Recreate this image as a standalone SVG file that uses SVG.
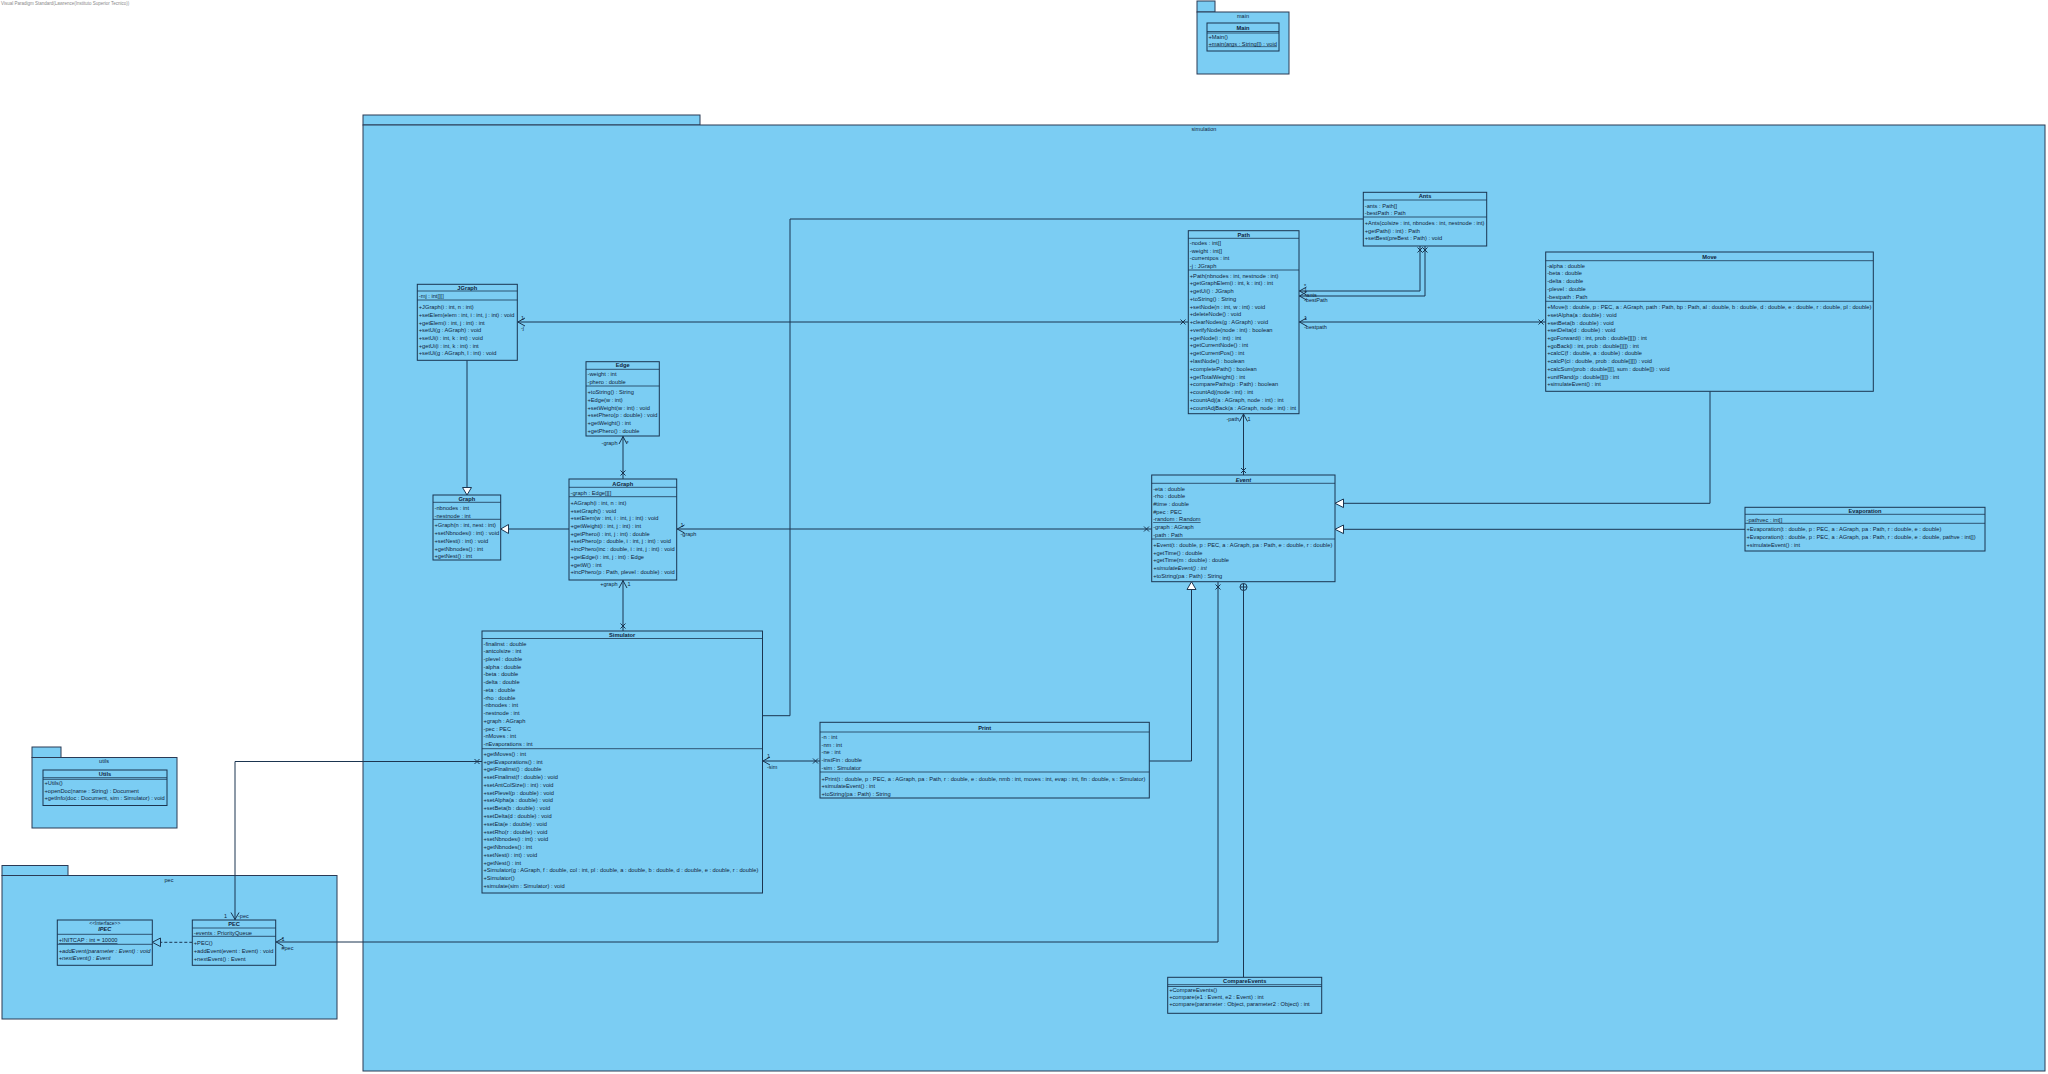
<svg xmlns="http://www.w3.org/2000/svg" width="2048" height="1074" viewBox="0 0 2048 1074">
<style>
  .t{font-family:"Liberation Sans",Arial,sans-serif;font-size:5.7px;fill:#10233a}
  .h{font-weight:bold;text-anchor:middle}
  .c{text-anchor:middle}
  .lb{font-family:"Liberation Sans",Arial,sans-serif;font-size:5.5px;fill:#10233a}
  .box{fill:#7bcdf3;stroke:#1b3550;stroke-width:1}
  .pkg{fill:#7bcdf3;stroke:#2a3a55;stroke-width:1}
  .sep{stroke:#1b3550;stroke-width:0.8}
  .ln{stroke:#1b3550;stroke-width:1;fill:none}
  .tri{fill:#ffffff;stroke:#1b3550;stroke-width:1}
  .it{font-style:italic}
  .u{text-decoration:underline}
</style>
<rect width="2048" height="1074" fill="#ffffff"/>
<text x="1" y="5" style="font-family:'Liberation Sans',Arial,sans-serif;font-size:4.5px;fill:#8a8a8a">Visual Paradigm Standard(Lawrence(Instituto Superior Tecnico))</text>

<!-- packages -->
<g id="pkg-main">
  <rect class="pkg" x="1197" y="1" width="18" height="11"/>
  <rect class="pkg" x="1197" y="12" width="92" height="62"/>
  <text class="t c" x="1243" y="17.5" style="font-size:5.5px">main</text>
</g>
<g id="pkg-simulation">
  <rect class="pkg" x="363" y="115" width="337" height="10"/>
  <rect class="pkg" x="363" y="125" width="1682" height="946"/>
  <text class="t c" x="1204" y="131" style="font-size:5.5px">simulation</text>
</g>
<g id="pkg-utils">
  <rect class="pkg" x="32" y="747" width="29" height="10.5"/>
  <rect class="pkg" x="32" y="757.5" width="145" height="70.5"/>
  <text class="t c" x="104" y="763" style="font-size:5.5px">utils</text>
</g>
<g id="pkg-pec">
  <rect class="pkg" x="2" y="865.5" width="66" height="10"/>
  <rect class="pkg" x="2" y="875.5" width="335" height="143.5"/>
  <text class="t c" x="169" y="882" style="font-size:5.5px">pec</text>
</g>

<!-- connectors -->
<g id="connectors">
  <!-- JGraph extends Graph -->
  <line class="ln" x1="467" y1="360.3" x2="467" y2="487.5"/>
  <polygon class="tri" points="467,495 462.5,487.5 471.5,487.5"/>
  <!-- AGraph extends Graph -->
  <line class="ln" x1="569" y1="529" x2="508.5" y2="529"/>
  <polygon class="tri" points="500.7,529 508.5,524.5 508.5,533.5"/>
  <!-- Path -> JGraph -->
  <line class="ln" x1="517.3" y1="322" x2="1188.3" y2="322"/>
  <polyline class="ln" points="525,318 517.8,322 525,326"/>
  <path class="ln" d="M1180.5,319.5l5,5M1185.5,319.5l-5,5"/>
  <text class="lb" x="521" y="319.7">1</text>
  <text class="lb" x="521" y="329.7">-j</text>
  <!-- AGraph -> Edge -->
  <line class="ln" x1="623" y1="436" x2="623" y2="479"/>
  <polyline class="ln" points="619,444 623,436.5 627,444"/>
  <path class="ln" d="M620.5,470.5l5,5M625.5,470.5l-5,5"/>
  <text class="lb" x="617.5" y="445.3" text-anchor="end">-graph</text>
  <text class="lb" x="626.5" y="445.3">*</text>
  <!-- Simulator -> AGraph -->
  <line class="ln" x1="623" y1="580" x2="623" y2="631"/>
  <polyline class="ln" points="619,588 623,580.5 627,588"/>
  <path class="ln" d="M620.5,623.5l5,5M625.5,623.5l-5,5"/>
  <text class="lb" x="617.5" y="586.2" text-anchor="end">+graph</text>
  <text class="lb" x="627.5" y="586.2">1</text>
  <!-- Event -> AGraph -->
  <line class="ln" x1="676.7" y1="529" x2="1151.7" y2="529"/>
  <polyline class="ln" points="684.5,525 677.2,529 684.5,533"/>
  <path class="ln" d="M1144,526.5l5,5M1149,526.5l-5,5"/>
  <text class="lb" x="680.5" y="526.5">1</text>
  <text class="lb" x="680.5" y="535.5">-graph</text>
  <!-- Event -> Path -->
  <line class="ln" x1="1243.5" y1="413.5" x2="1243.5" y2="475"/>
  <polyline class="ln" points="1239.5,421.5 1243.5,414 1247.5,421.5"/>
  <path class="ln" d="M1241,468l5,5M1246,468l-5,5"/>
  <text class="lb" x="1239" y="421.3" text-anchor="end">-path</text>
  <text class="lb" x="1247.5" y="421.3">1</text>
  <!-- Ants -> Path (ants, bestPath) -->
  <polyline class="ln" points="1420,246 1420,291 1299,291"/>
  <polyline class="ln" points="1425,246 1425,296 1299,296"/>
  <polyline class="ln" points="1306.5,287 1299.5,291 1306.5,295"/>
  <polyline class="ln" points="1306.5,292 1299.5,296 1306.5,300"/>
  <path class="ln" d="M1417.5,247.5l5,5M1422.5,247.5l-5,5M1422.5,247.5l5,5M1427.5,247.5l-5,5"/>
  <text class="lb" x="1304" y="287.5">*</text>
  <text class="lb" x="1304" y="292">1</text>
  <text class="lb" x="1304.5" y="296.5">-ants</text>
  <text class="lb" x="1304" y="302">-bestPath</text>
  <!-- Move -> Path -->
  <line class="ln" x1="1299" y1="322" x2="1545.7" y2="322"/>
  <polyline class="ln" points="1306.5,318 1299.5,322 1306.5,326"/>
  <path class="ln" d="M1538.5,319.5l5,5M1543.5,319.5l-5,5"/>
  <text class="lb" x="1304" y="319.5">1</text>
  <text class="lb" x="1304" y="328.7">-bestpath</text>
  <!-- Simulator - Ants -->
  <polyline class="ln" points="762.5,715.7 790,715.7 790,219 1363.3,219"/>
  <!-- Print -> Simulator -->
  <line class="ln" x1="762.5" y1="761" x2="820" y2="761"/>
  <polyline class="ln" points="770,757 763,761 770,765"/>
  <path class="ln" d="M813,758.5l5,5M818,758.5l-5,5"/>
  <text class="lb" x="767" y="758">1</text>
  <text class="lb" x="767" y="769">-sim</text>
  <!-- Print extends Event -->
  <polyline class="ln" points="1149.3,761 1191.5,761 1191.5,589.5"/>
  <polygon class="tri" points="1191.5,581.7 1187,589.5 1196,589.5"/>
  <!-- Move extends Event -->
  <polyline class="ln" points="1710,391.3 1710,503.3 1343.5,503.3"/>
  <polygon class="tri" points="1335,503.3 1343.5,499 1343.5,507.6"/>
  <!-- Evaporation extends Event -->
  <line class="ln" x1="1745" y1="529.3" x2="1343.5" y2="529.3"/>
  <polygon class="tri" points="1335,529.3 1343.5,525 1343.5,533.6"/>
  <!-- Event -> PEC -->
  <polyline class="ln" points="1218,581.7 1218,942 275.7,942"/>
  <polyline class="ln" points="283.5,938 276.2,942 283.5,946"/>
  <path class="ln" d="M1215.5,584.5l5,5M1220.5,584.5l-5,5"/>
  <text class="lb" x="281.5" y="941">1</text>
  <text class="lb" x="281.5" y="950.3">#pec</text>
  <!-- Simulator -> PEC -->
  <polyline class="ln" points="482,761.5 235,761.5 235,920"/>
  <polyline class="ln" points="231,912.5 235,919.5 239,912.5"/>
  <path class="ln" d="M474.5,759l5,5M479.5,759l-5,5"/>
  <text class="lb" x="227" y="918" text-anchor="end">1</text>
  <text class="lb" x="238" y="918">-pec</text>
  <!-- CompareEvents nested in Event -->
  <line class="ln" x1="1243.5" y1="590.5" x2="1243.5" y2="977.3"/>
  <circle class="ln" cx="1243.5" cy="587" r="3.5"/>
  <path class="ln" d="M1240,587h7M1243.5,583.5v7"/>
  <!-- PEC implements IPEC -->
  <line class="ln" x1="192.3" y1="942.3" x2="160.5" y2="942.3" stroke-dasharray="3,2"/>
  <polygon class="ln" points="152.3,942.3 160.5,938 160.5,946.6"/>
</g>

<!-- classes -->
<g id="Main">
  <rect class="box" x="1207" y="23" width="72" height="28"/>
  <text class="t h" x="1243" y="30">Main</text>
  <line class="sep" x1="1207" y1="31.5" x2="1279" y2="31.5"/>
  <line class="sep" x1="1207" y1="33" x2="1279" y2="33"/>
  <text class="t" x="1208.5" y="39">+Main()</text>
  <text class="t u" x="1208.5" y="45.5">+main(args : String[]) : void</text>
</g>

<g id="Utils">
  <rect class="box" x="43" y="770" width="124" height="35.5"/>
  <text class="t h" x="105" y="776">Utils</text>
  <line class="sep" x1="43" y1="777.7" x2="167" y2="777.7"/>
  <line class="sep" x1="43" y1="779.3" x2="167" y2="779.3"/>
  <text class="t" x="44.5" y="784.9"><tspan x="44.5">+Utils()</tspan><tspan x="44.5" dy="7.6">+openDoc(name : String) : Document</tspan><tspan x="44.5" dy="7.6">+getInfo(doc : Document, sim : Simulator) : void</tspan></text>
</g>

<g id="IPEC">
  <rect class="box" x="57.3" y="920" width="95" height="45.3"/>
  <text class="t c" x="104.8" y="925" style="font-size:5px">&lt;&lt;Interface&gt;&gt;</text>
  <text class="t h it" x="104.8" y="931.2">IPEC</text>
  <line class="sep" x1="57.3" y1="934.3" x2="152.3" y2="934.3"/>
  <text class="t u" x="58.8" y="942.4">+INITCAP : int = 10000</text>
  <line class="sep" x1="57.3" y1="944.3" x2="152.3" y2="944.3"/>
  <text class="t it" x="58.8" y="952.8"><tspan x="58.8">+addEvent(parameter : Event) : void</tspan><tspan x="58.8" dy="7.6">+nextEvent() : Event</tspan></text>
</g>

<g id="PEC">
  <rect class="box" x="192.3" y="920" width="83.4" height="45.3"/>
  <text class="t h" x="234" y="926">PEC</text>
  <line class="sep" x1="192.3" y1="928" x2="275.7" y2="928"/>
  <text class="t" x="193.8" y="934.8">-events : PriorityQueue</text>
  <line class="sep" x1="192.3" y1="936.3" x2="275.7" y2="936.3"/>
  <text class="t" x="193.8" y="945.1"><tspan x="193.8">+PEC()</tspan><tspan x="193.8" dy="7.7">+addEvent(event : Event) : void</tspan><tspan x="193.8" dy="7.7">+nextEvent() : Event</tspan></text>
</g>

<g id="JGraph">
  <rect class="box" x="417.3" y="284.3" width="100" height="76"/>
  <text class="t h" x="467.3" y="289.6">JGraph</text>
  <line class="sep" x1="417.3" y1="291" x2="517.3" y2="291"/>
  <text class="t" x="418.8" y="297.9">-mj : int[][]</text>
  <line class="sep" x1="417.3" y1="300" x2="517.3" y2="300"/>
  <text class="t" x="418.8" y="309.2"><tspan x="418.8">+JGraph(i : int, n : int)</tspan><tspan x="418.8" dy="7.67" textLength="95.5" lengthAdjust="spacingAndGlyphs">+setElem(elem : int, i : int, j : int) : void</tspan><tspan x="418.8" dy="7.67">+getElem(i : int, j : int) : int</tspan><tspan x="418.8" dy="7.67">+setUi(g : AGraph) : void</tspan><tspan x="418.8" dy="7.67">+setUi(i : int, k : int) : void</tspan><tspan x="418.8" dy="7.67">+getUi(i : int, k : int) : int</tspan><tspan x="418.8" dy="7.67">+setUi(g : AGraph, l : int) : void</tspan></text>
</g>

<g id="Edge">
  <rect class="box" x="586" y="361.7" width="73.3" height="74.3"/>
  <text class="t h" x="622.7" y="367.2">Edge</text>
  <line class="sep" x1="586" y1="369.3" x2="659.3" y2="369.3"/>
  <text class="t" x="587.5" y="376.2"><tspan x="587.5">-weight : int</tspan><tspan x="587.5" dy="7.9">-phero : double</tspan></text>
  <line class="sep" x1="586" y1="386" x2="659.3" y2="386"/>
  <text class="t" x="587.5" y="394.2"><tspan x="587.5">+toString() : String</tspan><tspan x="587.5" dy="7.74">+Edge(w : int)</tspan><tspan x="587.5" dy="7.74">+setWeight(w : int) : void</tspan><tspan x="587.5" dy="7.74">+setPhero(p : double) : void</tspan><tspan x="587.5" dy="7.74">+getWeight() : int</tspan><tspan x="587.5" dy="7.74">+getPhero() : double</tspan></text>
</g>

<g id="Graph">
  <rect class="box" x="433" y="495" width="67.7" height="65"/>
  <text class="t h" x="466.8" y="500.9">Graph</text>
  <line class="sep" x1="433" y1="502.3" x2="500.7" y2="502.3"/>
  <text class="t" x="434.5" y="509.9"><tspan x="434.5">-nbnodes : int</tspan><tspan x="434.5" dy="7.6">-nestnode : int</tspan></text>
  <line class="sep" x1="433" y1="519.3" x2="500.7" y2="519.3"/>
  <text class="t" x="434.5" y="527.2"><tspan x="434.5">+Graph(n : int, nest : int)</tspan><tspan x="434.5" dy="7.8">+setNbnodes(i : int) : void</tspan><tspan x="434.5" dy="7.8">+setNest(i : int) : void</tspan><tspan x="434.5" dy="7.8">+getNbnodes() : int</tspan><tspan x="434.5" dy="7.8">+getNest() : int</tspan></text>
</g>

<g id="AGraph">
  <rect class="box" x="569" y="479" width="107.7" height="101"/>
  <text class="t h" x="622.8" y="485.5">AGraph</text>
  <line class="sep" x1="569" y1="487.3" x2="676.7" y2="487.3"/>
  <text class="t" x="570.5" y="494.9">-graph : Edge[][]</text>
  <line class="sep" x1="569" y1="496.7" x2="676.7" y2="496.7"/>
  <text class="t" x="570.5" y="504.9"><tspan x="570.5">+AGraph(i : int, n : int)</tspan><tspan x="570.5" dy="7.7">+setGraph() : void</tspan><tspan x="570.5" dy="7.7">+setElem(w : int, i : int, j : int) : void</tspan><tspan x="570.5" dy="7.7">+getWeight(i : int, j : int) : int</tspan><tspan x="570.5" dy="7.7">+getPhero(i : int, j : int) : double</tspan><tspan x="570.5" dy="7.7">+setPhero(p : double, i : int, j : int) : void</tspan><tspan x="570.5" dy="7.7">+incPhero(inc : double, i : int, j : int) : void</tspan><tspan x="570.5" dy="7.7">+getEdge(i : int, j : int) : Edge</tspan><tspan x="570.5" dy="7.7">+getW() : int</tspan><tspan x="570.5" dy="7.7">+incPhero(p : Path, plevel : double) : void</tspan></text>
</g>

<g id="Simulator">
  <rect class="box" x="482" y="631" width="280.5" height="262"/>
  <text class="t h" x="622.2" y="637.3">Simulator</text>
  <line class="sep" x1="482" y1="638.5" x2="762.5" y2="638.5"/>
  <text class="t" x="483.5" y="645.5"><tspan x="483.5">-finalinst : double</tspan><tspan x="483.5" dy="7.74">-antcolsize : int</tspan><tspan x="483.5" dy="7.74">-plevel : double</tspan><tspan x="483.5" dy="7.74">-alpha : double</tspan><tspan x="483.5" dy="7.74">-beta : double</tspan><tspan x="483.5" dy="7.74">-delta : double</tspan><tspan x="483.5" dy="7.74">-eta : double</tspan><tspan x="483.5" dy="7.74">-rho : double</tspan><tspan x="483.5" dy="7.74">-nbnodes : int</tspan><tspan x="483.5" dy="7.74">-nestnode : int</tspan><tspan x="483.5" dy="7.74">+graph : AGraph</tspan><tspan x="483.5" dy="7.74">-pec : PEC</tspan><tspan x="483.5" dy="7.74">-nMoves : int</tspan><tspan x="483.5" dy="7.74">-nEvaporations : int</tspan></text>
  <line class="sep" x1="482" y1="748.7" x2="762.5" y2="748.7"/>
  <text class="t" x="483.5" y="755.9"><tspan x="483.5">+getMoves() : int</tspan><tspan x="483.5" dy="7.76">+getEvaporations() : int</tspan><tspan x="483.5" dy="7.76">+getFinalinst() : double</tspan><tspan x="483.5" dy="7.76">+setFinalinst(f : double) : void</tspan><tspan x="483.5" dy="7.76">+setAntColSize(i : int) : void</tspan><tspan x="483.5" dy="7.76">+setPlevel(p : double) : void</tspan><tspan x="483.5" dy="7.76">+setAlpha(a : double) : void</tspan><tspan x="483.5" dy="7.76">+setBeta(b : double) : void</tspan><tspan x="483.5" dy="7.76">+setDelta(d : double) : void</tspan><tspan x="483.5" dy="7.76">+setEta(e : double) : void</tspan><tspan x="483.5" dy="7.76">+setRho(r : double) : void</tspan><tspan x="483.5" dy="7.76">+setNbnodes(i : int) : void</tspan><tspan x="483.5" dy="7.76">+getNbnodes() : int</tspan><tspan x="483.5" dy="7.76">+setNest(i : int) : void</tspan><tspan x="483.5" dy="7.76">+getNest() : int</tspan><tspan x="483.5" dy="7.76">+Simulator(g : AGraph, f : double, col : int, pl : double, a : double, b : double, d : double, e : double, r : double)</tspan><tspan x="483.5" dy="7.76">+Simulator()</tspan><tspan x="483.5" dy="7.76">+simulate(sim : Simulator) : void</tspan></text>
</g>

<g id="Path">
  <rect class="box" x="1188.3" y="230.7" width="110.7" height="183"/>
  <text class="t h" x="1243.7" y="237.2">Path</text>
  <line class="sep" x1="1188.3" y1="238.3" x2="1299" y2="238.3"/>
  <text class="t" x="1189.8" y="245.2"><tspan x="1189.8">-nodes : int[]</tspan><tspan x="1189.8" dy="7.6">-weight : int[]</tspan><tspan x="1189.8" dy="7.6">-currentpos : int</tspan><tspan x="1189.8" dy="7.6">-j : JGraph</tspan></text>
  <line class="sep" x1="1188.3" y1="270" x2="1299" y2="270"/>
  <text class="t" x="1189.8" y="277.5"><tspan x="1189.8">+Path(nbnodes : int, nestnode : int)</tspan><tspan x="1189.8" dy="7.77">+getGraphElem(i : int, k : int) : int</tspan><tspan x="1189.8" dy="7.77">+getUi() : JGraph</tspan><tspan x="1189.8" dy="7.77">+toString() : String</tspan><tspan x="1189.8" dy="7.77">+setNode(n : int, w : int) : void</tspan><tspan x="1189.8" dy="7.77">+deleteNode() : void</tspan><tspan x="1189.8" dy="7.77">+clearNodes(g : AGraph) : void</tspan><tspan x="1189.8" dy="7.77">+verifyNode(node : int) : boolean</tspan><tspan x="1189.8" dy="7.77">+getNode(i : int) : int</tspan><tspan x="1189.8" dy="7.77">+getCurrentNode() : int</tspan><tspan x="1189.8" dy="7.77">+getCurrentPos() : int</tspan><tspan x="1189.8" dy="7.77">+lastNode() : boolean</tspan><tspan x="1189.8" dy="7.77">+completePath() : boolean</tspan><tspan x="1189.8" dy="7.77">+getTotalWeight() : int</tspan><tspan x="1189.8" dy="7.77">+comparePaths(p : Path) : boolean</tspan><tspan x="1189.8" dy="7.77">+countAdj(node : int) : int</tspan><tspan x="1189.8" dy="7.77">+countAdj(a : AGraph, node : int) : int</tspan><tspan x="1189.8" dy="7.77">+countAdjBack(a : AGraph, node : int) : int</tspan></text>
</g>

<g id="Ants">
  <rect class="box" x="1363.3" y="192.3" width="123.4" height="53.7"/>
  <text class="t h" x="1425" y="198.2">Ants</text>
  <line class="sep" x1="1363.3" y1="200" x2="1486.7" y2="200"/>
  <text class="t" x="1364.8" y="207.5"><tspan x="1364.8">-ants : Path[]</tspan><tspan x="1364.8" dy="7.4">-bestPath : Path</tspan></text>
  <line class="sep" x1="1363.3" y1="217" x2="1486.7" y2="217"/>
  <text class="t" x="1364.8" y="225.2"><tspan x="1364.8">+Ants(colsize : int, nbnodes : int, nestnode : int)</tspan><tspan x="1364.8" dy="7.5">+getPath(i : int) : Path</tspan><tspan x="1364.8" dy="7.5">+setBest(preBest : Path) : void</tspan></text>
</g>

<g id="Move">
  <rect class="box" x="1545.7" y="252" width="327.6" height="139.3"/>
  <text class="t h" x="1709.5" y="259.2">Move</text>
  <line class="sep" x1="1545.7" y1="260.7" x2="1873.3" y2="260.7"/>
  <text class="t" x="1547.2" y="267.5"><tspan x="1547.2">-alpha : double</tspan><tspan x="1547.2" dy="7.9">-beta : double</tspan><tspan x="1547.2" dy="7.9">-delta : double</tspan><tspan x="1547.2" dy="7.9">-plevel : double</tspan><tspan x="1547.2" dy="7.9">-bestpath : Path</tspan></text>
  <line class="sep" x1="1545.7" y1="301.3" x2="1873.3" y2="301.3"/>
  <text class="t" x="1547.2" y="309.2"><tspan x="1547.2">+Move(t : double, p : PEC, a : AGraph, path : Path, bp : Path, al : double, b : double, d : double, e : double, r : double, pl : double)</tspan><tspan x="1547.2" dy="7.7">+setAlpha(a : double) : void</tspan><tspan x="1547.2" dy="7.7">+setBeta(b : double) : void</tspan><tspan x="1547.2" dy="7.7">+setDelta(d : double) : void</tspan><tspan x="1547.2" dy="7.7">+goForward(i : int, prob : double[][]) : int</tspan><tspan x="1547.2" dy="7.7">+goBack(i : int, prob : double[][]) : int</tspan><tspan x="1547.2" dy="7.7">+calcC(f : double, a : double) : double</tspan><tspan x="1547.2" dy="7.7">+calcP(ci : double, prob : double[][]) : void</tspan><tspan x="1547.2" dy="7.7">+calcSum(prob : double[][], sum : double[]) : void</tspan><tspan x="1547.2" dy="7.7">+unifRand(p : double[][]) : int</tspan><tspan x="1547.2" dy="7.7">+simulateEvent() : int</tspan></text>
</g>

<g id="Event">
  <rect class="box" x="1151.7" y="475" width="183.3" height="106.7"/>
  <text class="t h it" x="1243.4" y="481.5">Event</text>
  <line class="sep" x1="1151.7" y1="483.3" x2="1335" y2="483.3"/>
  <text class="t" x="1153.2" y="490.5"><tspan x="1153.2">-eta : double</tspan><tspan x="1153.2" dy="7.73">-rho : double</tspan><tspan x="1153.2" dy="7.73">#time : double</tspan><tspan x="1153.2" dy="7.73">#pec : PEC</tspan><tspan x="1153.2" dy="7.73" class="u">-random : Random</tspan><tspan x="1153.2" dy="7.73">-graph : AGraph</tspan><tspan x="1153.2" dy="7.73">-path : Path</tspan></text>
  <line class="sep" x1="1151.7" y1="539" x2="1335" y2="539"/>
  <text class="t" x="1153.2" y="546.9"><tspan x="1153.2">+Event(t : double, p : PEC, a : AGraph, pa : Path, e : double, r : double)</tspan><tspan x="1153.2" dy="7.75">+getTime() : double</tspan><tspan x="1153.2" dy="7.75">+getTime(m : double) : double</tspan><tspan x="1153.2" dy="7.75" class="it">+simulateEvent() : int</tspan><tspan x="1153.2" dy="7.75">+toString(pa : Path) : String</tspan></text>
</g>

<g id="Evaporation">
  <rect class="box" x="1745" y="507.3" width="240" height="43.7"/>
  <text class="t h" x="1865" y="513.2">Evaporation</text>
  <line class="sep" x1="1745" y1="514.3" x2="1985" y2="514.3"/>
  <text class="t" x="1746.5" y="521.5">-pathvec : int[]</text>
  <line class="sep" x1="1745" y1="523.3" x2="1985" y2="523.3"/>
  <text class="t" x="1746.5" y="531.2"><tspan x="1746.5">+Evaporation(t : double, p : PEC, a : AGraph, pa : Path, r : double, e : double)</tspan><tspan x="1746.5" dy="7.7">+Evaporation(t : double, p : PEC, a : AGraph, pa : Path, r : double, e : double, pathve : int[])</tspan><tspan x="1746.5" dy="7.7">+simulateEvent() : int</tspan></text>
</g>

<g id="Print">
  <rect class="box" x="820" y="722.3" width="329.3" height="75.7"/>
  <text class="t h" x="984.7" y="730.2">Print</text>
  <line class="sep" x1="820" y1="732" x2="1149.3" y2="732"/>
  <text class="t" x="821.5" y="738.9"><tspan x="821.5">-n : int</tspan><tspan x="821.5" dy="7.75">-nm : int</tspan><tspan x="821.5" dy="7.75">-ne : int</tspan><tspan x="821.5" dy="7.75">-instFin : double</tspan><tspan x="821.5" dy="7.75">-sim : Simulator</tspan></text>
  <line class="sep" x1="820" y1="772" x2="1149.3" y2="772"/>
  <text class="t" x="821.5" y="780.5"><tspan x="821.5">+Print(t : double, p : PEC, a : AGraph, pa : Path, r : double, e : double, nmb : int, moves : int, evap : int, fin : double, s : Simulator)</tspan><tspan x="821.5" dy="7.6">+simulateEvent() : int</tspan><tspan x="821.5" dy="7.6">+toString(pa : Path) : String</tspan></text>
</g>

<g id="CompareEvents">
  <rect class="box" x="1167.7" y="977.3" width="154" height="36"/>
  <text class="t h" x="1244.7" y="983.2">CompareEvents</text>
  <line class="sep" x1="1167.7" y1="984.7" x2="1321.7" y2="984.7"/>
  <line class="sep" x1="1167.7" y1="986.5" x2="1321.7" y2="986.5"/>
  <text class="t" x="1169.2" y="991.9"><tspan x="1169.2">+CompareEvents()</tspan><tspan x="1169.2" dy="7.2">+compare(e1 : Event, e2 : Event) : int</tspan><tspan x="1169.2" dy="7.2">+compare(parameter : Object, parameter2 : Object) : int</tspan></text>
</g>
</svg>
